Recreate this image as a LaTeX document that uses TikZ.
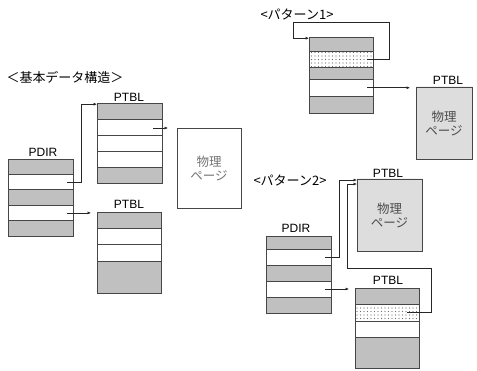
\documentclass[tikz,border=0pt]{standalone}
\usepackage{fontspec}
\setmainfont{Liberation Sans}
\newfontfamily\jp{Noto Sans CJK JP}
\usetikzlibrary{arrows.meta,patterns.meta}
\definecolor{rowgray}{RGB}{192,192,192}
\definecolor{edgec}{RGB}{70,70,70}
\tikzset{
  cell/.style={draw=edgec, line width=0.8pt, inner sep=0pt, outer sep=0pt, anchor=north west},
  grayrow/.style={cell, fill=rowgray},
  whiterow/.style={cell, fill=white},
  dotrow/.style={cell, preaction={fill=white}, pattern={Dots[distance=3.5pt,radius=0.55pt]}, pattern color=gray!85!black},
  plainpage/.style={cell, fill=white, text=black!55, align=center, font=\jp\fontsize{12.5}{14}\selectfont},
  densepage/.style={cell, preaction={fill=gray!18}, pattern={Dots[distance=2pt,radius=0.45pt]}, pattern color=gray!85!black, text=black!70, align=center, font=\jp\fontsize{12.5}{14}\selectfont},
  lbl/.style={font=\fontsize{12}{12}\selectfont, inner sep=0pt},
  ttl/.style={font=\jp\fontsize{13}{13}\selectfont, inner sep=0pt},
  arr/.style={draw=black!85, line width=0.6pt, -{Latex[length=3.5pt,width=3pt]}},
}
\begin{document}
\begin{tikzpicture}[x=1pt,y=-1pt]
\useasboundingbox (0,0) rectangle (477,371);
\fill[white] (0,0) rectangle (477,371);

% ---------- basic structure ----------
\node[ttl] (t0) at (65,77) {＜基本データ構造＞};
\node[lbl] (lpdir) at (43,152) {PDIR};
\node[grayrow,  minimum width=65pt, minimum height=15.4pt] (ld1) at (8,159) {};
\node[whiterow, minimum width=65pt, minimum height=15.4pt] (ld2) at (8,174.4) {};
\node[grayrow,  minimum width=65pt, minimum height=15.4pt] (ld3) at (8,189.8) {};
\node[whiterow, minimum width=65pt, minimum height=15.4pt] (ld4) at (8,205.2) {};
\node[grayrow,  minimum width=65pt, minimum height=15.4pt] (ld5) at (8,220.6) {};

\node[lbl] (lptbl1) at (129,97) {PTBL};
\node[grayrow,  minimum width=65pt, minimum height=16pt] (lt1a) at (97,103) {};
\node[whiterow, minimum width=65pt, minimum height=16pt] (lt1b) at (97,119) {};
\node[whiterow, minimum width=65pt, minimum height=16pt] (lt1c) at (97,135) {};
\node[whiterow, minimum width=65pt, minimum height=16pt] (lt1d) at (97,151) {};
\node[grayrow,  minimum width=65pt, minimum height=16pt] (lt1e) at (97,167) {};

\node[lbl] (lptbl2) at (129,204) {PTBL};
\node[grayrow,  minimum width=64pt, minimum height=16pt] (lt2a) at (97,212) {};
\node[whiterow, minimum width=64pt, minimum height=16pt] (lt2b) at (97,228) {};
\node[whiterow, minimum width=64pt, minimum height=17pt] (lt2c) at (97,244) {};
\node[grayrow,  minimum width=64pt, minimum height=32pt] (lt2d) at (97,261) {};

\node[plainpage, minimum width=64pt, minimum height=80pt] (lphys) at (177,128) {物理\\ページ};

\draw[arr] ([xshift=-6pt]ld2.east) -- ++(14pt,0) |- ([yshift=-1.2pt]lt1a.north west);
\draw[arr] ([xshift=-6pt]ld4.east) -- ([xshift=-6pt]ld4.east -| lt2a.west);
\draw[arr] ([xshift=-9pt,yshift=-1pt]lt1b.east) -- ([xshift=-9pt,yshift=-1pt]lt1b.east -| lphys.west);

% ---------- pattern 1 ----------
\node[ttl] (t1) at (297,14) {<パターン1>};
\node[grayrow,  minimum width=64pt, minimum height=14.5pt] (p1a) at (309,37) {};
\node[dotrow,   minimum width=64pt, minimum height=15.5pt] (p1b) at (309,51.5) {};
\node[grayrow,  minimum width=64pt, minimum height=12.5pt] (p1c) at (309,67) {};
\node[whiterow, minimum width=64pt, minimum height=16.5pt] (p1d) at (309,79.5) {};
\node[grayrow,  minimum width=64pt, minimum height=17pt] (p1e) at (309,96) {};

\node[lbl] (p1lbl) at (448,80) {PTBL};
\node[densepage, minimum width=56pt, minimum height=72pt] (p1phys) at (416,87) {物理\\ページ};

\coordinate (p1R) at (389,22);
\coordinate (p1L) at (293,22);
\draw[arr] ([xshift=-6pt]p1b.east) -| (p1R) -- (p1L) |- ([yshift=-1.2pt]p1a.north west);
\draw[arr] ([xshift=-6pt]p1d.east) -- ([xshift=-6pt]p1d.east -| p1phys.west);

% ---------- pattern 2 ----------
\node[ttl] (t2) at (290,180) {<パターン2>};
\node[lbl] (p2pdir) at (296,228) {PDIR};
\node[grayrow,  minimum width=65pt, minimum height=13pt] (p2d1) at (266,236) {};
\node[whiterow, minimum width=65pt, minimum height=16pt] (p2d2) at (266,249) {};
\node[grayrow,  minimum width=65pt, minimum height=16pt] (p2d3) at (266,265) {};
\node[whiterow, minimum width=65pt, minimum height=16pt] (p2d4) at (266,281) {};
\node[grayrow,  minimum width=65pt, minimum height=16pt] (p2d5) at (266,297) {};

\node[lbl] (p2lbl1) at (388,173) {PTBL};
\node[densepage, minimum width=65pt, minimum height=72pt] (p2phys) at (357,179) {物理\\ページ};

\node[lbl] (p2lbl2) at (388,280) {PTBL};
\node[grayrow,  minimum width=64pt, minimum height=16.5pt] (p2ta) at (355,288) {};
\node[dotrow,   minimum width=64pt, minimum height=16.5pt] (p2tb) at (355,304.5) {};
\node[whiterow, minimum width=64pt, minimum height=16pt] (p2tc) at (355,321) {};
\node[grayrow,  minimum width=64pt, minimum height=31pt] (p2td) at (355,337) {};

\coordinate (p2R) at (431,268);
\coordinate (p2L) at (347,268);
\draw[arr] ([xshift=-6pt]p2d2.east) -- ++(14pt,0) |- ([yshift=-1pt]p2phys.north west);
\draw[arr] ([xshift=-12pt]p2tb.east) -| (p2R) -- (p2L) |- ([yshift=-5pt]p2phys.north west);
\draw[arr] ([xshift=-6pt]p2d4.east) -- ([xshift=-6pt]p2d4.east -| p2ta.west);
\end{tikzpicture}
\end{document}
